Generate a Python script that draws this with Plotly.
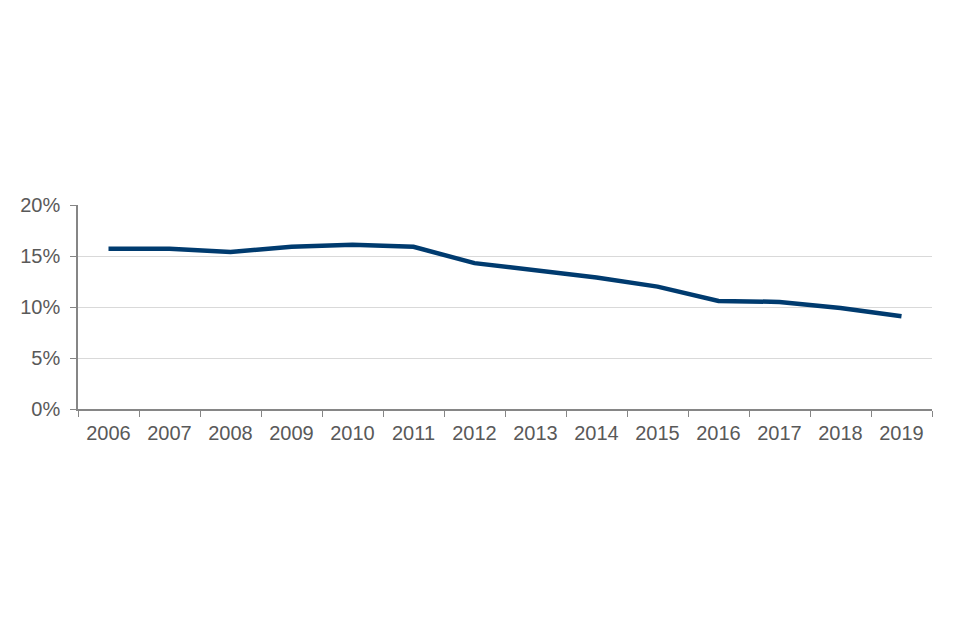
import plotly.graph_objects as go

years = ["2006", "2007", "2008", "2009", "2010", "2011", "2012",
         "2013", "2014", "2015", "2016", "2017", "2018", "2019"]
values = [15.7, 15.7, 15.4, 15.9, 16.1, 15.9, 14.3,
          13.6, 12.9, 12.0, 10.6, 10.5, 9.9, 9.1]

fig = go.Figure()
fig.add_trace(go.Scatter(
    x=years, y=values, mode="lines",
    line=dict(color="#003B6F", width=4.5),
    showlegend=False, hoverinfo="skip",
))

axis_color = "#868686"
text_color = "#595959"
fig.update_layout(
    width=960, height=640,
    paper_bgcolor="white", plot_bgcolor="white",
    margin=dict(l=70, r=36, t=197, b=239),
    font=dict(family="Liberation Sans, Arial, sans-serif", size=20, color=text_color),
    xaxis=dict(
        type="category", range=[-0.5, 13.5],
        tickson="boundaries", ticks="outside", ticklen=6, tickcolor=axis_color,
        showline=True, linecolor=axis_color, linewidth=1.5,
        showgrid=False, tickfont=dict(size=20, color=text_color),
        ticklabelstandoff=5,
    ),
    yaxis=dict(
        range=[0, 20], dtick=5, ticksuffix="%",
        ticks="outside", ticklen=6, tickcolor=axis_color,
        showline=True, linecolor=axis_color, linewidth=1.5,
        showgrid=True, gridcolor="#D9D9D9", gridwidth=1.2,
        zeroline=False, tickfont=dict(size=20, color=text_color),
        ticklabelstandoff=6,
    ),
)

fig.write_html("out.html")
